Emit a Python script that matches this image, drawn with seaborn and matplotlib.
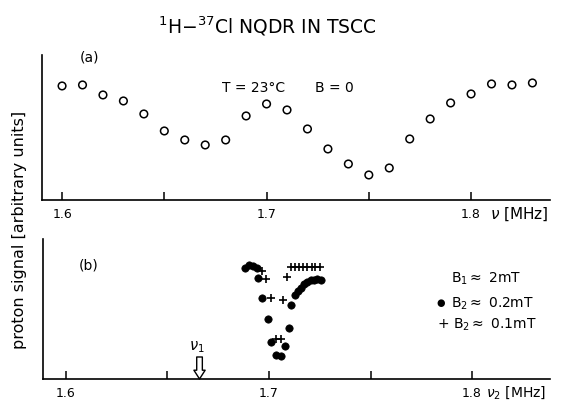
import numpy as np
import pandas as pd
import matplotlib
matplotlib.use('Agg')
import matplotlib.pyplot as plt
import seaborn as sns

# panel (a): B = 0 scan
freq_a = [1.60, 1.61, 1.62, 1.63, 1.64, 1.65, 1.66, 1.67, 1.68, 1.69, 1.70, 1.71,
          1.72, 1.73, 1.74, 1.75, 1.76, 1.77, 1.78, 1.79, 1.80, 1.81, 1.82, 1.83]
signal_a = [11.4, 11.5, 10.5, 9.9, 8.6, 6.9, 6.0, 5.5, 6.0, 8.4, 9.6, 9.0,
            7.1, 5.1, 3.6, 2.5, 3.2, 6.1, 8.1, 9.7, 10.6, 11.6, 11.5, 11.7]

# panel (b): B2 ~ 0.2 mT (dots)
freq_dots = [1.6882, 1.6902, 1.6921, 1.6941, 1.6946, 1.6967, 1.6995, 1.7011, 1.7033,
             1.7057, 1.7078, 1.7098, 1.7110, 1.7128, 1.7144, 1.7157, 1.7172, 1.7188,
             1.7205, 1.7221, 1.7237, 1.7257]
signal_dots = [11.1, 11.4, 11.3, 11.1, 10.1, 8.1, 6.05, 3.7, 2.35,
               2.3, 3.3, 5.07, 7.4, 8.4, 8.8, 9.15, 9.5, 9.7,
               9.9, 9.9, 10.0, 9.9]

# panel (b): B2 ~ 0.1 mT (crosses)
freq_cross = [1.6967, 1.6987, 1.7012, 1.7069, 1.7088, 1.7037, 1.7059,
              1.7107, 1.7129, 1.7150, 1.7170, 1.7189, 1.7210, 1.7229, 1.7249]
signal_cross = [10.8, 10.0, 8.07, 7.93, 10.2, 4.0, 4.05,
                11.17, 11.17, 11.17, 11.17, 11.17, 11.17, 11.17, 11.17]

nu1 = 1.6658
major_ticks = [1.6, 1.7, 1.8]
minor_ticks = [1.65, 1.75]

sns.set_style('white')
plt.rcParams['font.family'] = ['DejaVu Sans']
plt.rcParams['text.color'] = 'black'
plt.rcParams['xtick.color'] = 'black'

fig = plt.figure(figsize=(5.61, 4.04), dpi=100)
ax_a = fig.add_axes([0.0749, 0.505, 0.9055, 0.359])
ax_b = fig.add_axes([0.0766, 0.062, 0.9038, 0.346])

df_a = pd.DataFrame({'freq': freq_a, 'signal': signal_a})
sns.scatterplot(data=df_a, x='freq', y='signal', ax=ax_a, marker='o', s=30,
                fc='none', ec='black', linewidth=1.1)

df_dots = pd.DataFrame({'freq': freq_dots, 'signal': signal_dots})
df_cross = pd.DataFrame({'freq': freq_cross, 'signal': signal_cross})
sns.scatterplot(data=df_dots, x='freq', y='signal', ax=ax_b, marker='o', s=28,
                color='black', ec='black', linewidth=0.5)
sns.scatterplot(data=df_cross, x='freq', y='signal', ax=ax_b, marker='+', s=40,
                color='black', linewidth=1.2)

ax_a.set_xlim(1.5902, 1.8386)
ax_a.set_ylim(0, 14.5)
ax_b.set_xlim(1.5887, 1.8384)
ax_b.set_ylim(0, 14.0)

for ax in (ax_a, ax_b):
    sns.despine(ax=ax)
    ax.spines['left'].set_linewidth(1.2)
    ax.spines['bottom'].set_linewidth(1.2)
    ax.spines['left'].set_color('black')
    ax.spines['bottom'].set_color('black')
    ax.set_yticks([])
    ax.set_xticks(major_ticks)
    ax.set_xticks(minor_ticks, minor=True)
    ax.set_xticklabels(['1.6', '1.7', '1.8'])
    ax.tick_params(axis='x', which='both', bottom=True, direction='in', length=6,
                   width=1.1, colors='black', labelsize=9, pad=6)
    ax.set_xlabel('')
    ax.set_ylabel('')

# axis unit labels
ax_a.text(0.882, -0.04, r'$\nu$ [MHz]', transform=ax_a.transAxes,
          fontsize=11, va='top', ha='left')
ax_b.text(0.874, -0.035, r'$\nu_2$ [MHz]', transform=ax_b.transAxes,
          fontsize=10, va='top', ha='left')

# annotations
ax_a.text(0.075, 0.98, '(a)', transform=ax_a.transAxes, fontsize=10, va='center')
ax_a.text(0.355, 0.77, 'T = 23°C', transform=ax_a.transAxes, fontsize=10, va='center')
ax_a.text(0.537, 0.77, 'B = 0', transform=ax_a.transAxes, fontsize=10, va='center')

ax_b.text(0.07, 0.81, '(b)', transform=ax_b.transAxes, fontsize=10, va='center')
ax_b.text(0.805, 0.72, r'B$_1\approx$ 2mT', transform=ax_b.transAxes, fontsize=10, va='center')
ax_b.text(0.777, 0.54, '\u25cf', transform=ax_b.transAxes, fontsize=7, va='center')
ax_b.text(0.805, 0.54, r'B$_2\approx$ 0.2mT', transform=ax_b.transAxes, fontsize=10, va='center')
ax_b.text(0.777, 0.39, r'+ B$_2\approx$ 0.1mT', transform=ax_b.transAxes, fontsize=10, va='center')

ax_b.annotate('', xy=(nu1, 0), xytext=(nu1, 2.2),
              arrowprops=dict(arrowstyle='simple,head_width=0.9,head_length=0.7,tail_width=0.45',
                              fc='white', ec='black', lw=1.0, mutation_scale=9,
                              shrinkA=0, shrinkB=0))
ax_b.text(nu1 - 0.0015, 2.4, r'$\nu_1$', fontsize=10.5, ha='center', va='bottom')

fig.text(267 / 561, 1 - 26 / 404, r'$^1$H$-^{37}$Cl NQDR IN TSCC', fontsize=13.5,
         ha='center', va='center')
fig.text(20 / 561, 1 - 230 / 404, 'proton signal [arbitrary units]', rotation=90,
         fontsize=11.5, ha='center', va='center')

fig.savefig('out.png', dpi=100, facecolor='white')
